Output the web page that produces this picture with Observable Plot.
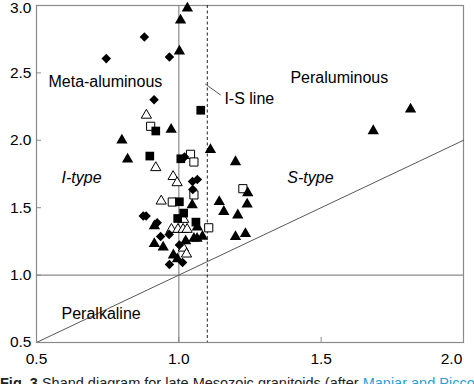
<!DOCTYPE html>
<html>
<head>
<meta charset="utf-8">
<script src="https://cdn.jsdelivr.net/npm/d3@7"></script>
<script src="https://cdn.jsdelivr.net/npm/@observablehq/plot@0.6"></script>
<style>
  body { margin: 0; background: #fff; font-family: "Liberation Sans", Arial, sans-serif; }
  #chart svg { display: block; }
  #caption { margin-top: 3px; white-space: nowrap; overflow: hidden; width: 474px; font-size: 14.5px; line-height: 17px; color: #222; }
  #caption .ref { color: #2a9fd6; }
</style>
</head>
<body>
<div id="chart"></div>
<div id="caption"><b>Fig. 3</b> Shand diagram for late Mesozoic granitoids (after <span class="ref">Maniar and Piccoli 1989</span>)</div>
<script>
// A/CNK (x) vs A/NK (y)
const filledTriX = [1.030,1.006,1.002,0.973,0.800,0.820,1.111,1.199,1.242,1.240,1.207,1.199,1.234,1.814,1.683,1.047,1.142,1.158,0.914,1.065,1.053,1.064,1.083,0.914,0.945,1.024,0.981,0.995];
const filledTriY = [2.98,2.89,2.66,2.08,2.00,1.86,1.93,1.84,1.61,1.525,1.445,1.284,1.307,2.23,2.07,1.52,1.544,1.471,1.364,1.356,1.272,1.271,1.286,1.233,1.206,1.253,1.148,1.119];

const diamondX = [0.879,0.745,0.967,0.913,1.048,1.065,1.049,0.875,0.885,0.924,0.936,0.966,1.002,0.967,1.013,1.020];
const diamondY = [2.767,2.606,2.618,2.301,1.694,1.709,1.635,1.438,1.438,1.388,1.286,1.302,1.223,1.078,1.094,1.876];

const filledSqX = [1.077,0.919,0.898,1.007,1.002,1.017,0.996,1.060];
const filledSqY = [2.223,2.069,1.883,1.863,1.544,1.460,1.420,1.393];

const openTriX = [0.886,0.919,0.980,0.994,0.938,0.974,0.997,1.015,1.029,1.017,1.016,1.027];
const openTriY = [2.186,1.797,1.731,1.685,1.549,1.339,1.339,1.339,1.339,1.413,1.200,1.156];

const openSqX = [0.901,1.041,1.053,1.053,0.977,1.225,1.105];
const openSqY = [2.104,1.896,1.839,1.595,1.542,1.641,1.351];

const xTicks = [0.5, 1.0, 1.5, 2.0];
const yTicks = [0.5, 1.0, 1.5, 2.0, 2.5, 3.0];

const labelText  = ["Meta-aluminous", "Peraluminous", "I-S line", "Peralkaline"];
const labelX     = [0.542, 1.392, 1.160, 0.588];
const labelY     = [2.433, 2.463, 2.309, 0.710];
const italicText = ["I-type", "S-type"];
const italicX    = [0.588, 1.381];
const italicY    = [1.722, 1.722];

const isLeaderX = [1.094, 1.146];
const isLeaderY = [2.416, 2.337];
const diagX = [0.5, 2.0];
const diagY = [0.5, 2.0];

const pts = (xs, ys) => xs.map((x, i) => ({x, y: ys[i]}));
const lbl = (t, xs, ys) => t.map((s, i) => ({s, x: xs[i], y: ys[i]}));
const fmt = d3.format(".1f");

const chart = Plot.plot({
  width: 474,
  height: 372,
  marginLeft: 36,
  marginRight: 11,
  marginTop: 5,
  marginBottom: 30,
  style: {fontFamily: "'Liberation Sans', Arial, sans-serif", fontSize: "15.5px", background: "#fff", color: "#000"},
  x: {domain: [0.5, 2.0]},
  y: {domain: [0.5, 3.0]},
  marks: [
    Plot.frame({stroke: "#8a8a8a", strokeWidth: 1.2}),
    Plot.ruleX([1.0], {stroke: "#8a8a8a", strokeWidth: 1.2}),
    Plot.ruleY([1.0], {stroke: "#8a8a8a", strokeWidth: 1.2}),
    Plot.ruleX([1.1], {stroke: "#222", strokeWidth: 1, strokeDasharray: "3,2.5"}),
    Plot.line(pts(diagX, diagY), {x: "x", y: "y", stroke: "#444", strokeWidth: 0.9}),
    Plot.line(pts(isLeaderX, isLeaderY), {x: "x", y: "y", stroke: "#444", strokeWidth: 0.9}),
    Plot.ruleX(xTicks, {x: d => d, y1: 0.5, y2: 0.5, insetTop: -5, stroke: "#8a8a8a"}),
    Plot.ruleY(yTicks, {y: d => d, x1: 0.5, x2: 0.5, insetRight: -5, stroke: "#8a8a8a"}),
    Plot.axisX(xTicks.slice(0, 3), {tickSize: 0, tickPadding: 10, tickFormat: fmt, fontSize: 15.5, label: null}),
    Plot.axisX(xTicks.slice(3), {tickSize: 0, tickPadding: 10, dx: -12, tickFormat: fmt, fontSize: 15.5, label: null}),
    Plot.axisY(yTicks.slice(0, 5), {tickSize: 0, tickPadding: 5, tickFormat: fmt, fontSize: 15.5, label: null}),
    Plot.axisY(yTicks.slice(5), {tickSize: 0, tickPadding: 5, dy: 2.5, tickFormat: fmt, fontSize: 15.5, label: null}),
    Plot.dot(pts(openSqX, openSqY), {x: "x", y: "y", symbol: "square", r: 4.6, fill: "#fff", stroke: "#000", strokeWidth: 1}),
    Plot.dot(pts(openTriX, openTriY), {x: "x", y: "y", symbol: "triangle", r: 3.8, fill: "#fff", stroke: "#000", strokeWidth: 1}),
    Plot.dot(pts(filledSqX, filledSqY), {x: "x", y: "y", symbol: "square", r: 4.9, fill: "#000", stroke: "none"}),
    Plot.dot(pts(diamondX, diamondY), {x: "x", y: "y", symbol: "diamond2", r: 4.3, fill: "#000", stroke: "none"}),
    Plot.dot(pts(filledTriX, filledTriY), {x: "x", y: "y", symbol: "triangle", r: 4.2, fill: "#000", stroke: "none"}),
    Plot.text(lbl(labelText, labelX, labelY), {x: "x", y: "y", text: "s", textAnchor: "start", fontSize: 16, fill: "#000"}),
    Plot.text(lbl(italicText, italicX, italicY), {x: "x", y: "y", text: "s", textAnchor: "start", fontSize: 16, fontStyle: "italic", fill: "#000"})
  ]
});
document.getElementById("chart").appendChild(chart);
</script>
</body>
</html>
